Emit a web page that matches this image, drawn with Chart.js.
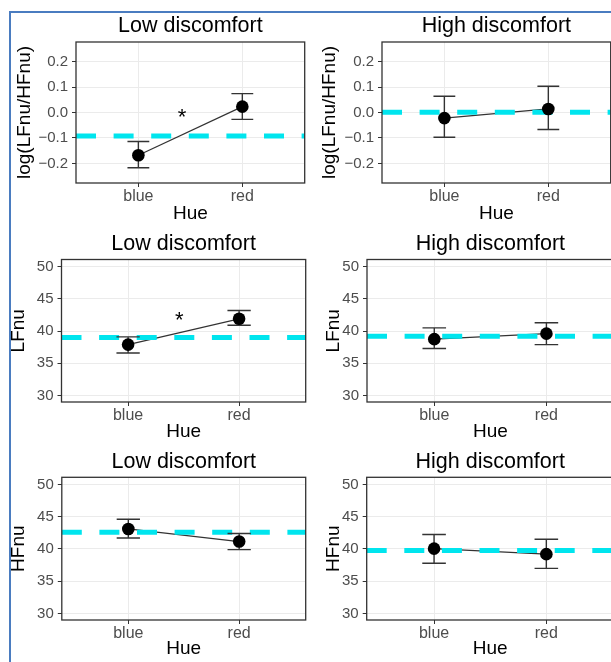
<!DOCTYPE html>
<html>
<head>
<meta charset="utf-8">
<script src="https://cdn.jsdelivr.net/npm/chart.js@4/dist/chart.umd.min.js"></script>
<style>
  html, body { margin:0; padding:0; background:#fff; width:611px; height:662px; overflow:hidden; position:relative; }
  .frame { position:absolute; left:9px; top:11px; width:720px; height:720px; border-left:2px solid #4a7cc0; border-top:2px solid #4a7cc0; }
  canvas { position:absolute; }
</style>
</head>
<body>
<div class="frame"></div>
<canvas id="c0"></canvas>
<canvas id="c1"></canvas>
<canvas id="c2"></canvas>
<canvas id="c3"></canvas>
<canvas id="c4"></canvas>
<canvas id="c5"></canvas>
<script>
// ---------- data ----------
const categories = ['blue', 'red'];
const xAxisTitle = 'Hue';
const panelTitles = ['Low discomfort', 'High discomfort', 'Low discomfort', 'High discomfort', 'Low discomfort', 'High discomfort'];
const yAxisTitles = ['log(LFnu/HFnu)', 'log(LFnu/HFnu)', 'LFnu', 'LFnu', 'HFnu', 'HFnu'];

const ratioTicks = [-0.2, -0.1, 0.0, 0.1, 0.2];
const ratioTickLabels = ['\u22120.2', '\u22120.1', '0.0', '0.1', '0.2'];
const nuTicks = [30, 35, 40, 45, 50];
const nuTickLabels = ['30', '35', '40', '45', '50'];

// means and error-bar ends (blue, red)
const lowRatioMean  = [-0.168, 0.023];
const lowRatioLo    = [-0.217, -0.027];
const lowRatioHi    = [-0.114, 0.074];
const highRatioMean = [-0.022, 0.014];
const highRatioLo   = [-0.097, -0.067];
const highRatioHi   = [0.064, 0.103];
const lowLFMean  = [37.9, 41.9];
const lowLFLo    = [36.6, 40.9];
const lowLFHi    = [39.1, 43.2];
const highLFMean = [38.75, 39.6];
const highLFLo   = [37.3, 37.9];
const highLFHi   = [40.5, 41.3];
const lowHFMean  = [43.1, 41.15];
const lowHFLo    = [41.7, 39.9];
const lowHFHi    = [44.6, 42.4];
const highHFMean = [40.05, 39.2];
const highHFLo   = [37.8, 37.0];
const highHFHi   = [42.25, 41.5];

// dashed reference levels per panel
const referenceLevels = [-0.092, 0.001, 39.0, 39.2, 42.6, 39.75];
// significance star positions (x in category units, y in data units)
const starX = [1.42, null, 1.46, null, null, null];
const starY = [-0.009, null, 42.1, null, null, null];

const panelMeans = [lowRatioMean, highRatioMean, lowLFMean, highLFMean, lowHFMean, highHFMean];
const panelLo = [lowRatioLo, highRatioLo, lowLFLo, highLFLo, lowHFLo, highHFLo];
const panelHi = [lowRatioHi, highRatioHi, lowLFHi, highLFHi, lowHFHi, highHFHi];
const panelTicks = [ratioTicks, ratioTicks, nuTicks, nuTicks, nuTicks, nuTicks];
const panelTickLabels = [ratioTickLabels, ratioTickLabels, nuTickLabels, nuTickLabels, nuTickLabels, nuTickLabels];
const panelYRange = [[-0.277, 0.277], [-0.277, 0.277], [29, 51.1], [29, 51.1], [29, 51.1], [29, 51.1]];

// ---------- layout (pixel geometry of each panel) ----------
const geo = [
  {L:76,    R:311,   T:42,    B:183, titleY:25.6,  yTitleX:24.5, hueY:213.4},
  {L:382,   R:617,   T:42,    B:183, titleY:25.6,  yTitleX:330,  hueY:213.4},
  {L:61.5,  R:311.5, T:259.5, B:402, titleY:243.6, yTitleX:19,   hueY:431.7},
  {L:367,   R:620,   T:259.5, B:402, titleY:243.6, yTitleX:333.4,hueY:431.7},
  {L:61.8,  R:311.9, T:477.3, B:620, titleY:461.6, yTitleX:19,   hueY:648.4},
  {L:366.7, R:619.7, T:477.3, B:620, titleY:461.6, yTitleX:334,  hueY:648.4}
];

const FONT = "'Liberation Sans', Arial, Helvetica, sans-serif";
const TITLE_SIZE = 21.5, AXIS_TITLE_SIZE = 19, XTICK_SIZE = 16, YTICK_SIZE = 15;

function makePanel(i) {
  const g = geo[i];
  const tHalf = TITLE_SIZE * 1.2 / 2;
  const aHalf = AXIS_TITLE_SIZE * 1.2 / 2;
  const canvasLeft = Math.floor(g.yTitleX - aHalf);
  const yTitlePad = (g.yTitleX - aHalf) - canvasLeft;
  const canvasTop = Math.floor(g.titleY - tHalf);
  const titlePadTop = (g.titleY - tHalf) - canvasTop;
  const titlePadBottom = g.T - (canvasTop + titlePadTop + 2 * tHalf);
  const width = Math.round(g.R - canvasLeft);
  const height = Math.ceil(g.hueY + aHalf - canvasTop);
  const xTitlePadBottom = (canvasTop + height) - (g.hueY + aHalf);
  const Lw = g.L - canvasLeft;
  const Hx = canvasTop + height - g.B;

  const canvas = document.getElementById('c' + i);
  canvas.width = width; canvas.height = height;
  canvas.style.left = canvasLeft + 'px';
  canvas.style.top = canvasTop + 'px';
  canvas.style.width = width + 'px';
  canvas.style.height = height + 'px';

  const means = panelMeans[i], lo = panelLo[i], hi = panelHi[i];
  const pts = categories.map((c, k) => ({x: k + 1, y: means[k]}));
  const ticks = panelTicks[i], tickLabels = panelTickLabels[i];

  const decor = {
    id: 'decor' + i,
    beforeDatasetDraw(chart, args) {
      if (args.index !== 0) return;
      const {ctx, chartArea: a, scales: {x, y}} = chart;
      // dashed reference line
      ctx.save();
      ctx.strokeStyle = '#00E5EE';
      ctx.lineWidth = 5;
      ctx.setLineDash([20, 17.6]);
      const yr = y.getPixelForValue(referenceLevels[i]);
      ctx.beginPath(); ctx.moveTo(a.left, yr); ctx.lineTo(a.right, yr); ctx.stroke();
      ctx.restore();
      // error bars
      ctx.save();
      ctx.strokeStyle = '#333333';
      ctx.lineWidth = 1.4;
      categories.forEach((c, k) => {
        const xc = x.getPixelForValue(k + 1);
        const xl = x.getPixelForValue(k + 1 - 0.105);
        const xr = x.getPixelForValue(k + 1 + 0.105);
        const yl = y.getPixelForValue(lo[k]);
        const yh = y.getPixelForValue(hi[k]);
        ctx.beginPath();
        ctx.moveTo(xc, yl); ctx.lineTo(xc, yh);
        ctx.moveTo(xl, yl); ctx.lineTo(xr, yl);
        ctx.moveTo(xl, yh); ctx.lineTo(xr, yh);
        ctx.stroke();
      });
      ctx.restore();
    },
    afterDatasetsDraw(chart) {
      const {ctx, chartArea: a, scales: {x, y}} = chart;
      if (starY[i] !== null) {
        ctx.save();
        ctx.fillStyle = '#000';
        ctx.font = '22px ' + FONT;
        ctx.textAlign = 'center';
        ctx.textBaseline = 'alphabetic';
        ctx.fillText('*', x.getPixelForValue(starX[i]), y.getPixelForValue(starY[i]) + 0.43 * 22);
        ctx.restore();
      }
      ctx.save();
      ctx.strokeStyle = '#333333';
      ctx.lineWidth = 1.3;
      ctx.strokeRect(a.left, a.top, a.right - a.left, a.bottom - a.top);
      ctx.restore();
    }
  };

  new Chart(canvas.getContext('2d'), {
    type: 'line',
    data: {
      datasets: [
        {data: pts, showLine: false, pointRadius: 6.3, pointHoverRadius: 6.3,
         pointBackgroundColor: '#000', pointBorderColor: '#000', pointBorderWidth: 0},
        {data: pts, pointRadius: 0, pointHoverRadius: 0, borderColor: '#333333',
         borderWidth: 1.2, fill: false, tension: 0}
      ]
    },
    options: {
      responsive: false,
      animation: false,
      events: [],
      layout: {padding: 0},
      plugins: {
        legend: {display: false},
        tooltip: {enabled: false},
        title: {
          display: true, text: panelTitles[i], fullSize: false, color: '#000',
          font: {family: FONT, size: TITLE_SIZE, weight: 'normal'},
          padding: {top: titlePadTop, bottom: titlePadBottom}
        }
      },
      scales: {
        x: {
          type: 'linear', min: 0.4, max: 2.6,
          afterBuildTicks: s => { s.ticks = categories.map((c, k) => ({value: k + 1})); },
          afterFit: s => { s.height = Hx; },
          ticks: {
            autoSkip: false, maxRotation: 0, padding: 0, color: '#4D4D4D',
            font: {family: FONT, size: XTICK_SIZE},
            callback: v => categories[Math.round(v) - 1]
          },
          grid: {color: '#EBEBEB', lineWidth: 1, tickColor: '#333333', tickLength: 4, tickWidth: 1},
          border: {display: false},
          title: {
            display: true, text: xAxisTitle, color: '#000',
            font: {family: FONT, size: AXIS_TITLE_SIZE},
            padding: {top: 0, bottom: xTitlePadBottom}
          }
        },
        y: {
          type: 'linear', min: panelYRange[i][0], max: panelYRange[i][1],
          afterBuildTicks: s => { s.ticks = ticks.map(v => ({value: v})); },
          afterFit: s => { s.width = Lw; },
          ticks: {
            autoSkip: false, padding: 4, color: '#4D4D4D',
            font: {family: FONT, size: YTICK_SIZE},
            callback: v => tickLabels[ticks.findIndex(t => Math.abs(t - v) < 1e-9)]
          },
          grid: {color: '#EBEBEB', lineWidth: 1, tickColor: '#333333', tickLength: 4, tickWidth: 1},
          border: {display: false},
          title: {
            display: true, text: yAxisTitles[i], color: '#000',
            font: {family: FONT, size: AXIS_TITLE_SIZE},
            padding: {top: yTitlePad, bottom: 0}
          }
        }
      }
    },
    plugins: [decor]
  });
}

for (let i = 0; i < 6; i++) makePanel(i);
</script>
</body>
</html>
